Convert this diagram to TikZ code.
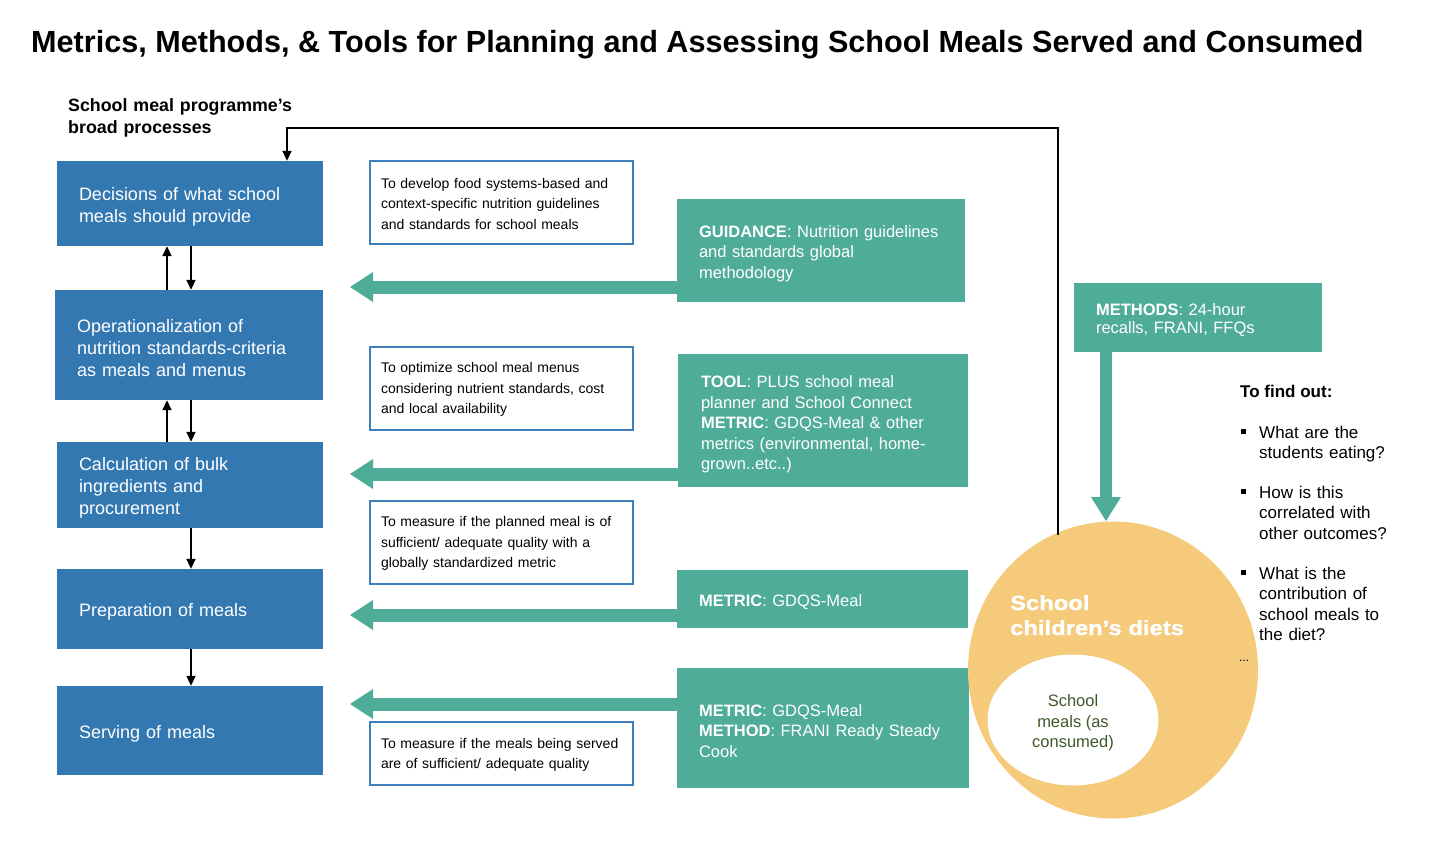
\documentclass[tikz,border=0pt]{standalone}
\usepackage{fontspec}
\setmainfont{Liberation Sans}
\newfontfamily\dietfont[FakeStretch=1.16,FakeBold=1.2]{Liberation Sans}
\usetikzlibrary{arrows.meta,shapes.geometric,calc}
\definecolor{bblue}{RGB}{52,120,178}
\definecolor{nblue}{RGB}{62,128,188}
\definecolor{tealc}{RGB}{79,172,152}
\definecolor{yell}{RGB}{245,202,122}
\definecolor{olivec}{RGB}{62,88,42}
\newcommand\bsq{\llap{\raisebox{4pt}{\rule{5pt}{5pt}}\hspace{13.5pt}}}
\begin{document}
\begin{tikzpicture}[x=1pt,y=-1pt,
 proc/.style={fill=bblue, text=white, inner xsep=22pt, inner ysep=0pt, align=left, font=\fontsize{18}{22}\selectfont, execute at begin node={\rule{0pt}{19pt}}},
 note/.style={draw=nblue, line width=1.3pt, fill=white, inner xsep=11pt, inner ysep=0pt, align=left, font=\fontsize{14}{20.5}\selectfont, execute at begin node={\rule{0pt}{12.5pt}}},
 tbox/.style={fill=tealc, text=white, inner ysep=0pt, align=left, font=\fontsize{16.5}{20.5}\selectfont, execute at begin node={\rule{0pt}{18pt}}},
 sarrow/.style={line width=1.8pt, -{Triangle[length=10pt,width=9pt]}},
 barrow/.style={tealc, line width=13pt, -{Triangle[length=23pt,width=30pt,line width=0pt]}},
 bul/.style={anchor=base west, inner sep=0pt, text width=165pt, align=left, font=\fontsize{17}{20.5}\selectfont},
]
\useasboundingbox (0,0) rectangle (1432,860);

% title and header
\node[anchor=base west, inner sep=0pt, font=\bfseries\fontsize{30.6}{36}\selectfont] (title) at (31,52) {Metrics, Methods, \& Tools for Planning and Assessing School Meals Served and Consumed};
\node[anchor=base west, inner sep=0pt, text width=260pt, align=left, font=\bfseries\fontsize{17.8}{22}\selectfont] (hdr) at (68,111) {School meal programme’s\\broad processes};

% process boxes
\node[proc, text width=222pt, minimum width=266pt, minimum height=85pt] (b1) at (190,203.5) {Decisions of what school\\meals should provide};
\node[proc, text width=224pt, minimum width=268pt, minimum height=110pt] (b2) at (189,345) {Operationalization of\\nutrition standards-criteria\\as meals and menus};
\node[proc, text width=222pt, minimum width=266pt, minimum height=86pt] (b3) at (190,485) {Calculation of bulk\\ingredients and\\procurement};
\node[proc, text width=222pt, minimum width=266pt, minimum height=80pt] (b4) at (190,609) {Preparation of meals};
\node[proc, text width=222pt, minimum width=266pt, minimum height=89pt] (b5) at (190,730.5) {Serving of meals};

\draw[sarrow] ([xshift=-23pt]b2.north -| b1.south) -- ([xshift=-23pt]b1.south);
\draw[sarrow] ([xshift=1pt]b1.south) -- ([xshift=1pt]b1.south |- b2.north);
\draw[sarrow] ([xshift=-23pt]b3.north) -- ([xshift=-23pt]b3.north |- b2.south);
\draw[sarrow] ([xshift=1pt]b3.north |- b2.south) -- ([xshift=1pt]b3.north);
\draw[sarrow] ([xshift=1pt]b3.south) -- ([xshift=1pt]b4.north);
\draw[sarrow] ([xshift=1pt]b4.south) -- ([xshift=1pt]b5.north);

% note boxes
\node[note, text width=241pt, minimum width=263pt, minimum height=83pt] (nA) at (501.5,202.5) {To develop food systems-based and\\context-specific nutrition guidelines\\and standards for school meals};
\node[note, text width=241pt, minimum width=263pt, minimum height=83pt] (nB) at (501.5,388.5) {To optimize school meal menus\\considering nutrient standards, cost\\and local availability};
\node[note, text width=241pt, minimum width=263pt, minimum height=83pt] (nC) at (501.5,542.5) {To measure if the planned meal is of\\sufficient/ adequate quality with a\\globally standardized metric};
\node[note, text width=241pt, minimum width=263pt, minimum height=63pt] (nD) at (501.5,753.5) {To measure if the meals being served\\are of sufficient/ adequate quality};

% teal boxes
\node[tbox, inner xsep=22pt, text width=244pt, minimum width=288pt, minimum height=103pt] (tG) at (821,250.5) {\textbf{GUIDANCE}: Nutrition guidelines\\and standards global\\methodology};
\node[tbox, inner xsep=23pt, text width=244pt, minimum width=290pt, minimum height=133pt, execute at begin node={\rule{0pt}{19.5pt}}] (tT) at (823,420.5) {\textbf{TOOL}: PLUS school meal\\planner and School Connect\\\textbf{METRIC}: GDQS-Meal \& other\\metrics (environmental, home-\\grown..etc..)};
\node[tbox, inner xsep=22pt, text width=247pt, minimum width=291pt, minimum height=58pt] (tM) at (822.5,599) {\textbf{METRIC}: GDQS-Meal};
\node[tbox, inner xsep=22pt, text width=248pt, minimum width=292pt, minimum height=120pt] (tMM) at (823,728) {\textbf{METRIC}: GDQS-Meal\\\textbf{METHOD}: FRANI Ready Steady\\Cook};
\node[tbox, inner xsep=22pt, text width=204pt, minimum width=248pt, minimum height=69pt, font=\fontsize{16.5}{18}\selectfont, execute at begin node={\rule{0pt}{16pt}}] (tMe) at (1198,317.5) {\textbf{METHODS}: 24-hour\\recalls, FRANI, FFQs};

% block arrows
\coordinate (aG) at (350,287);
\coordinate (aT) at (350,474);
\coordinate (aM) at (350,615);
\coordinate (aMM) at (350,704);
\draw[barrow] (tG.west |- aG) -- (aG);
\draw[barrow] (tT.west |- aT) -- (aT);
\draw[barrow] (tM.west |- aM) -- (aM);
\draw[barrow] (tMM.west |- aMM) -- (aMM);

% circle
\node[ellipse, fill=yell, minimum width=290pt, minimum height=297pt, inner sep=0pt] (circ) at (1113,670) {};
\node[anchor=base west, inner sep=0pt, text=white, text width=220pt, align=left, font=\dietfont\bfseries\fontsize{20.5}{25}\selectfont] (diet) at (1010,610) {School\\children’s diets};
\node[ellipse, fill=white, minimum width=171pt, minimum height=131pt, inner sep=0pt, text=olivec, align=center, font=\fontsize{16.5}{20.5}\selectfont] (inner) at (1073,720) {\rule{0pt}{18pt}School\\meals (as\\consumed)};

\coordinate (aMe) at (1106,521);
\draw[barrow, line width=12pt, -{Triangle[length=24pt,width=30pt,line width=0pt]}] (tMe.south -| aMe) -- (aMe);

% feedback line
\coordinate (fb) at (1058,535);
\coordinate (topy) at (0,128);
\draw[sarrow] (fb) -- (fb |- topy) -| ([xshift=97pt]b1.north);

% right text
\node[anchor=base west, inner sep=0pt, font=\bfseries\fontsize{17}{20.5}\selectfont] (find) at (1240,397) {To find out:};
\node[bul] (q1) at (1259,438) {\bsq What are the\\students eating?};
\node[bul] (q2) at (1259,498) {\bsq How is this\\correlated with\\other outcomes?};
\node[bul] (q3) at (1259,579) {\bsq What is the\\contribution of\\school meals to\\the diet?};
\node[anchor=base west, inner sep=0pt, font=\fontsize{12}{14}\selectfont] (dots) at (1239,661) {...};
\end{tikzpicture}
\end{document}
